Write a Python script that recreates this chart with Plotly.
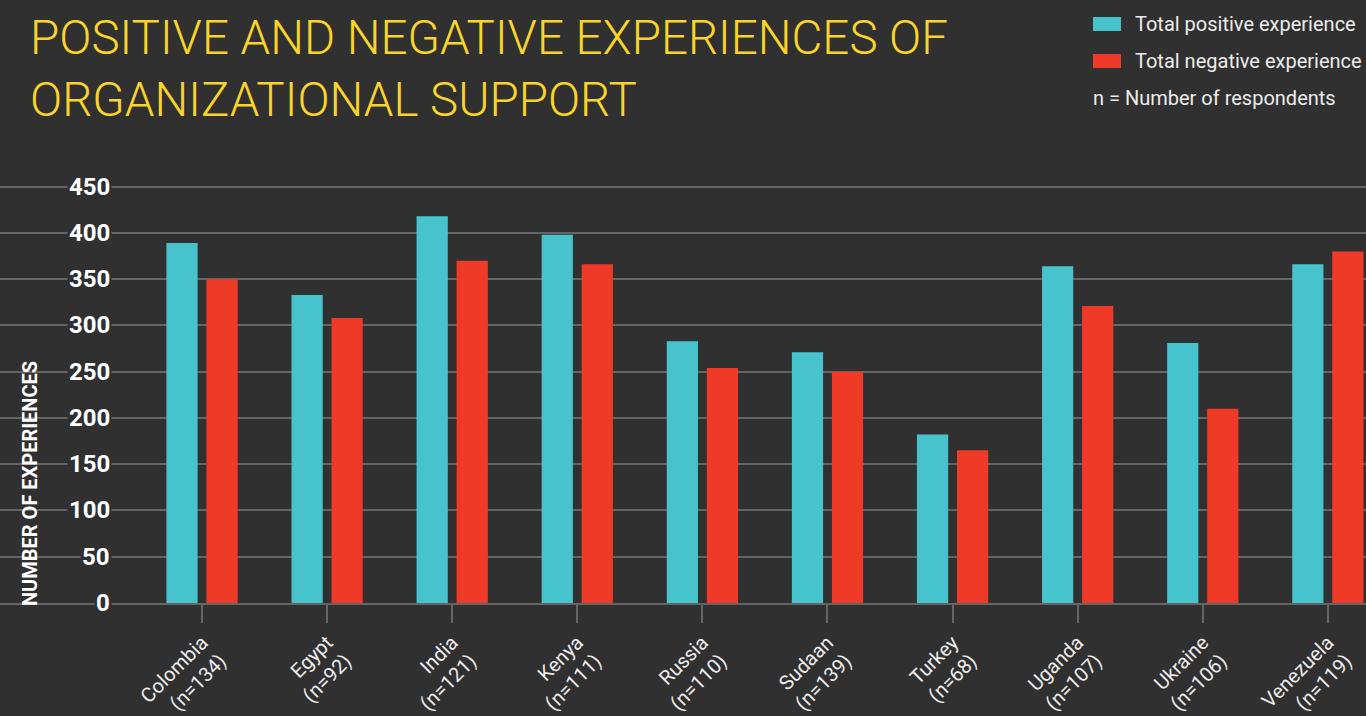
import plotly.graph_objects as go

# Survey data
countries = ["Colombia", "Egypt", "India", "Kenya", "Russia",
             "Sudaan", "Turkey", "Uganda", "Ukraine", "Venezuela"]
respondents = [134, 92, 121, 111, 110, 139, 68, 107, 106, 119]
positive = [389, 333, 418, 398, 283, 271, 182, 364, 281, 366]
negative = [350, 308, 370, 366, 254, 250, 165, 321, 210, 380]
y_ticks = [0, 50, 100, 150, 200, 250, 300, 350, 400, 450]

BG = "#303030"
CYAN = "#46C3CC"
RED = "#EE3A27"
GRID = "#656565"
YELLOW = "#F9D52B"
TEXT = "#ECECEC"

W, H = 1366, 716
M_TOP, M_BOT = 182, 113
PLOT_H = H - M_TOP - M_BOT


def px_x(x):
    return x / W


def px_y(y):
    return (H - M_BOT - y) / PLOT_H


labels = [f"{c}<br>(n={n})" for c, n in zip(countries, respondents)]

fig = go.Figure()
fig.add_trace(go.Bar(x=labels, y=positive, name="Total positive experience",
                     marker=dict(color=CYAN, line=dict(width=0))))
fig.add_trace(go.Bar(x=labels, y=negative, name="Total negative experience",
                     marker=dict(color=RED, line=dict(width=0))))

annotations = []
# y tick labels sit over the gridlines on a background-coloured box
for v in y_ticks:
    annotations.append(dict(
        x=px_x(112), xref="paper", xanchor="right",
        y=v, yref="y", yanchor="middle",
        text=str(v), showarrow=False, bgcolor=BG, borderpad=1,
        font=dict(family="Roboto", size=24, color="#FFFFFF", weight="bold"),
    ))

# axis title
annotations.append(dict(
    x=px_x(30), xref="paper", xanchor="center",
    y=px_y(484), yref="paper", yanchor="middle",
    text="NUMBER OF EXPERIENCES", textangle=-90, showarrow=False,
    font=dict(family="Roboto", size=20, color="#FFFFFF", weight="bold"),
))

# legend
legend_rows = [(24, CYAN, "Total positive experience"),
               (61, RED, "Total negative experience")]
shapes = []
for yc, col, txt in legend_rows:
    shapes.append(dict(type="rect", xref="paper", yref="paper",
                       x0=px_x(1093), x1=px_x(1121),
                       y0=px_y(yc - 7), y1=px_y(yc + 7),
                       fillcolor=col, line=dict(width=0)))
    annotations.append(dict(
        x=px_x(1133), xref="paper", xanchor="left",
        y=px_y(yc), yref="paper", yanchor="middle",
        text=txt, showarrow=False,
        font=dict(family="Roboto", size=20, color=TEXT),
    ))
annotations.append(dict(
    x=px_x(1091), xref="paper", xanchor="left",
    y=px_y(98), yref="paper", yanchor="middle",
    text="n = Number of respondents", showarrow=False,
    font=dict(family="Roboto", size=20, color=TEXT),
))

# title
annotations.append(dict(
    x=px_x(28), xref="paper", xanchor="left",
    y=px_y(8), yref="paper", yanchor="top",
    text="POSITIVE AND NEGATIVE EXPERIENCES OF<br>ORGANIZATIONAL SUPPORT",
    align="left", showarrow=False,
    font=dict(family="Roboto", size=47.5, color=YELLOW, weight=300),
))

fig.update_layout(
    width=W, height=H,
    margin=dict(l=0, r=0, t=M_TOP, b=M_BOT, autoexpand=False),
    paper_bgcolor=BG, plot_bgcolor=BG,
    barmode="group", bargap=0.36, bargroupgap=0.22,
    showlegend=False,
    annotations=annotations, shapes=shapes,
    xaxis=dict(
        range=[-1.615, 9.305], showgrid=False, automargin=False,
        showline=True, linecolor=GRID, linewidth=2,
        ticks="outside", ticklen=18, tickwidth=2, tickcolor=GRID,
        tickangle=-45,
        tickfont=dict(family="Roboto", size=20, color=TEXT),
    ),
    yaxis=dict(
        range=[0, 455], tickvals=y_ticks, showticklabels=False,
        showgrid=True, gridcolor=GRID, gridwidth=2,
        zeroline=False, automargin=False,
    ),
)

fig.write_html("out.html")
